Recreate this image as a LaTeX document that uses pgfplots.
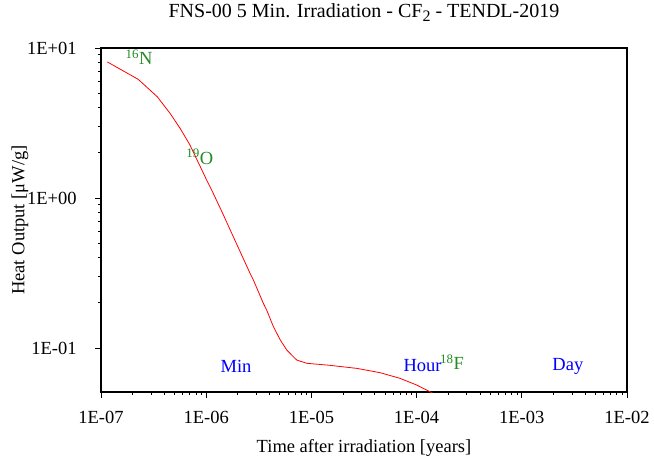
\documentclass[border=0pt]{standalone}
\usepackage{fontspec}
\setmainfont{Liberation Serif}
\usepackage{pgfplots}
\pgfplotsset{compat=1.18}
\definecolor{lblgreen}{RGB}{34,139,34}
\begin{document}
\fontsize{18.5bp}{22bp}\selectfont
\begin{tikzpicture}
\begin{axis}[
  scale only axis,
  width=526bp, height=344bp,
  xmode=log, ymode=log,
  xmin=1e-7, xmax=1e-2,
  ymin=0.0509, ymax=10,
  xtick={1e-7,1e-6,1e-5,1e-4,1e-3,1e-2},
  xticklabels={1E-07,1E-06,1E-05,1E-04,1E-03,1E-02},
  ytick={0.1,1,10},
  yticklabels={1E-01,1E+00,1E+01},
  tick align=outside,
  xtick pos=bottom, ytick pos=left,
  major tick length=6bp, minor tick length=3bp,
  axis line style={line width=1.2pt},
  tick style={line width=0.8pt, black},
  title={FNS-00 5 Min. Irradiation - CF\raisebox{-4bp}{\fontsize{16bp}{16bp}\selectfont 2} - TENDL-2019},
  xlabel={Time after irradiation [years]},
  ylabel={Heat Output [μW/g]},
  tick label style={font=\fontsize{18.5bp}{22bp}\selectfont},
  xticklabel style={anchor=base, yshift=-26bp},
  yticklabel style={anchor=east, xshift=-12bp},
  label style={font=\fontsize{18.5bp}{22bp}\selectfont},
  title style={font=\fontsize{20bp}{22bp}\selectfont, at={(axis description cs:0.5,1)}, anchor=base, yshift=24.5bp},
  xlabel style={at={(axis description cs:0.5,0)}, anchor=base, yshift=-60bp},
  ylabel style={at={(axis description cs:-0.154,0.5)}, anchor=center},
]
\addplot[red, line width=0.8pt, no marks] coordinates {
(1.15e-7,8.07) (2.26e-7,6.18) (3.43e-7,4.73) (4.53e-7,3.67) (5.64e-7,2.92)
(7.0e-7,2.26) (1.01e-6,1.318) (1.17e-6,1.07) (1.40e-6,0.82) (1.81e-6,0.552)
(2.61e-6,0.315) (2.81e-6,0.284) (3.49e-6,0.199) (3.76e-6,0.179) (4.35e-6,0.139)
(5.03e-6,0.114) (5.83e-6,0.097) (6.74e-6,0.0875) (7.25e-6,0.0832) (9.02e-6,0.0791)
(1.49e-5,0.0767) (2.69e-5,0.0732) (4.49e-5,0.0685) (6.95e-5,0.0628)
(1.0e-4,0.0567) (1.34e-4,0.0511) (1.45e-4,0.0495)
};
\coordinate (sw) at (rel axis cs:0,0);
\coordinate (ne) at (rel axis cs:1,1);
\node[lblgreen] at (axis cs:2.3e-7,8.71) {\textsuperscript{16}N};
\node[lblgreen] at (axis cs:8.7e-7,1.88) {\textsuperscript{19}O};
\node[lblgreen] at (axis cs:2.17e-4,0.0807) {\textsuperscript{18}F};
\node[blue] at (axis cs:1.92e-6,0.0759) {Min};
\node[blue] at (axis cs:1.14e-4,0.0759) {Hour};
\node[blue] at (axis cs:2.74e-3,0.0759) {Day};
\end{axis}
\pgfresetboundingbox
\useasboundingbox ([shift={(-101bp,-69bp)}]sw) rectangle ([shift={(27bp,48bp)}]ne);
\end{tikzpicture}
\end{document}
